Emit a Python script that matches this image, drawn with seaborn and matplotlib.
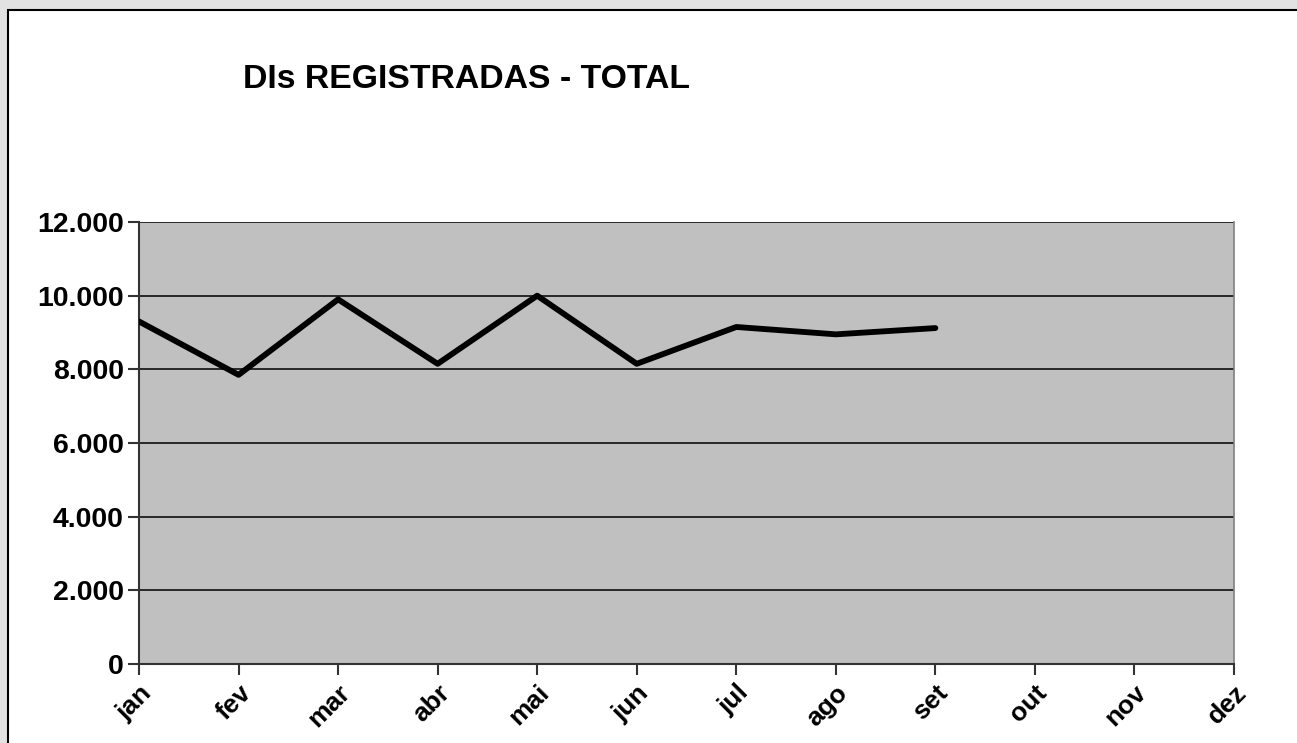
import numpy as np
import pandas as pd
import matplotlib.pyplot as plt
import seaborn as sns
from matplotlib.patches import Rectangle
from matplotlib.ticker import FuncFormatter

# dados
meses = ['jan', 'fev', 'mar', 'abr', 'mai', 'jun', 'jul', 'ago', 'set', 'out', 'nov', 'dez']
dis_total = [9300, 7850, 9900, 8150, 10000, 8150, 9150, 8950, 9120]
y_ticks = [0, 2000, 4000, 6000, 8000, 10000, 12000]

df = pd.DataFrame({'pos': np.arange(len(dis_total)), 'total': dis_total})

sns.set_style('white')
plt.rcParams['font.family'] = ['Liberation Sans', 'DejaVu Sans']
plt.rcParams['text.color'] = 'black'
plt.rcParams['xtick.color'] = 'black'
plt.rcParams['ytick.color'] = 'black'

fig = plt.figure(figsize=(12.97, 7.43), dpi=100)
fig.patch.set_facecolor('#e2e2e2')

# moldura branca do grafico
moldura = Rectangle((8 / 1297, -0.01), 1.02, (743 - 10) / 743 + 0.01,
                    transform=fig.transFigure, facecolor='white',
                    edgecolor='black', linewidth=1.5, zorder=-5)
fig.patches.append(moldura)

ax = fig.add_axes([139 / 1297, 1 - 664 / 743, (1234 - 139) / 1297, (664 - 222) / 743])
ax.set_zorder(1)
ax.set_facecolor('#c0c0c0')

sns.lineplot(data=df, x='pos', y='total', color='black', linewidth=4.2, ax=ax, zorder=3)

ax.set_xlim(0, len(meses) - 1)
ax.set_ylim(0, 12000)
ax.set_xticks(range(len(meses)))
ax.set_xticklabels(meses, rotation=45, ha='right', rotation_mode='anchor',
                   fontsize=19, fontweight='bold')
ax.set_yticks(y_ticks)
ax.yaxis.set_major_formatter(FuncFormatter(lambda v, p: f'{int(v):,}'.replace(',', '.')))
for lbl in ax.get_yticklabels():
    lbl.set_fontsize(20.5)
    lbl.set_fontweight('bold')

ax.grid(axis='y', color='black', linewidth=1.1)
ax.set_axisbelow(True)
ax.tick_params(axis='both', direction='out', length=8, width=1.5, color='#333333',
               left=True, bottom=True, pad=3)
ax.tick_params(axis='x', pad=4)
for s in ['left', 'bottom']:
    ax.spines[s].set_color('#333333')
    ax.spines[s].set_linewidth(1.5)
ax.spines['top'].set_visible(False)
ax.spines['right'].set_color('#808080')
ax.spines['right'].set_linewidth(1.2)

ax.set_xlabel('')
ax.set_ylabel('')

fig.text(243 / 1297, 1 - 80 / 743, 'DIs REGISTRADAS - TOTAL', fontsize=24.3,
         fontweight='bold', ha='left', va='center', color='black')

fig.savefig('out.png', dpi=100, facecolor=fig.get_facecolor())
